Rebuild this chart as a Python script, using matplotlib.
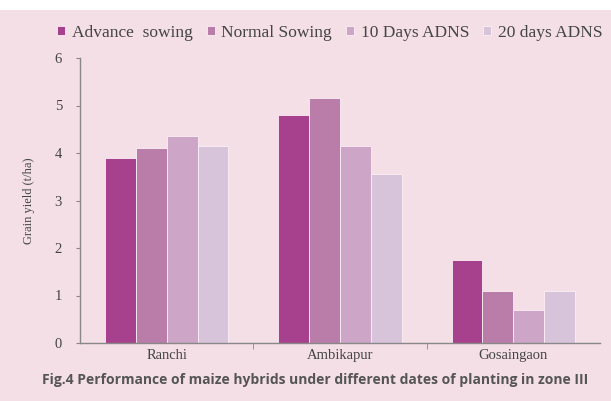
import numpy as np
import matplotlib
matplotlib.use("Agg")
import matplotlib.pyplot as plt
from matplotlib.patches import Rectangle

# data
locations = ["Ranchi", "Ambikapur", "Gosaingaon"]
series_names = ["Advance  sowing", "Normal Sowing", "10 Days ADNS", "20 days ADNS"]
advance_sowing = [3.9, 4.8, 1.75]
normal_sowing = [4.1, 5.15, 1.1]
days10_adns = [4.35, 4.15, 0.7]
days20_adns = [4.15, 3.55, 1.1]
yticks = [0, 1, 2, 3, 4, 5, 6]

colors = ["#A7418D", "#BA7CA8", "#CCA5C7", "#D8C4DA"]
bg = "#F4DFE7"

fig = plt.figure(figsize=(6.11, 4.01), dpi=100, facecolor=bg)
ax = fig.add_axes([80 / 611, 1 - 343 / 401, 520 / 611, 285 / 401])
ax.set_facecolor(bg)

# white strip at the top of the scan
fig.patches.append(Rectangle((0, 1 - 10 / 401), 1, 10 / 401, transform=fig.transFigure,
                             facecolor="white", edgecolor="none", zorder=0))

x = np.arange(len(locations))
w = 0.178
all_series = [advance_sowing, normal_sowing, days10_adns, days20_adns]
for i, (vals, c, name) in enumerate(zip(all_series, colors, series_names)):
    ax.bar(x + (i - 1.5) * w, vals, width=w, color=c, edgecolor="#FBEFF5",
           linewidth=0.6, label=name, zorder=2)

ax.set_xlim(-0.5, 2.5)
ax.set_ylim(0, 6)
ax.set_yticks(yticks)
ax.set_xticks(x)
ax.set_xticklabels(locations)
ax.set_xticks([0.5, 1.5], minor=True)
ax.tick_params(axis="x", which="major", length=0, pad=4)
ax.tick_params(axis="x", which="minor", length=4, color="#888888", direction="out")
ax.tick_params(axis="y", length=3, color="#888888", pad=10)

for lab in ax.get_xticklabels() + ax.get_yticklabels():
    lab.set_fontfamily("Liberation Serif")
    lab.set_fontsize(10.5)
    lab.set_color("#444444")

for s in ["top", "right"]:
    ax.spines[s].set_visible(False)
for s in ["left", "bottom"]:
    ax.spines[s].set_color("#888888")
    ax.spines[s].set_linewidth(1.0)

ax.set_ylabel("Grain yield (t/ha)", fontfamily="Liberation Serif", fontsize=9,
              color="#444444", labelpad=14)

leg = fig.legend(loc="center", bbox_to_anchor=(0.54, 1 - 33 / 401), ncol=4,
                 frameon=False, handlelength=0.45, handleheight=0.45, handletextpad=0.4,
                 columnspacing=0.8, prop={"family": "Liberation Serif", "size": 12.5})
for t in leg.get_texts():
    t.set_color("#444444")

fig.text(0.515, 1 - 380 / 401, "Fig.4 Performance of maize hybrids under different dates of planting in zone III",
         ha="center", va="center", fontsize=10, fontweight="bold", color="#555555",
         fontfamily="Open Sans")

fig.savefig("out.png", dpi=100, facecolor=bg)
